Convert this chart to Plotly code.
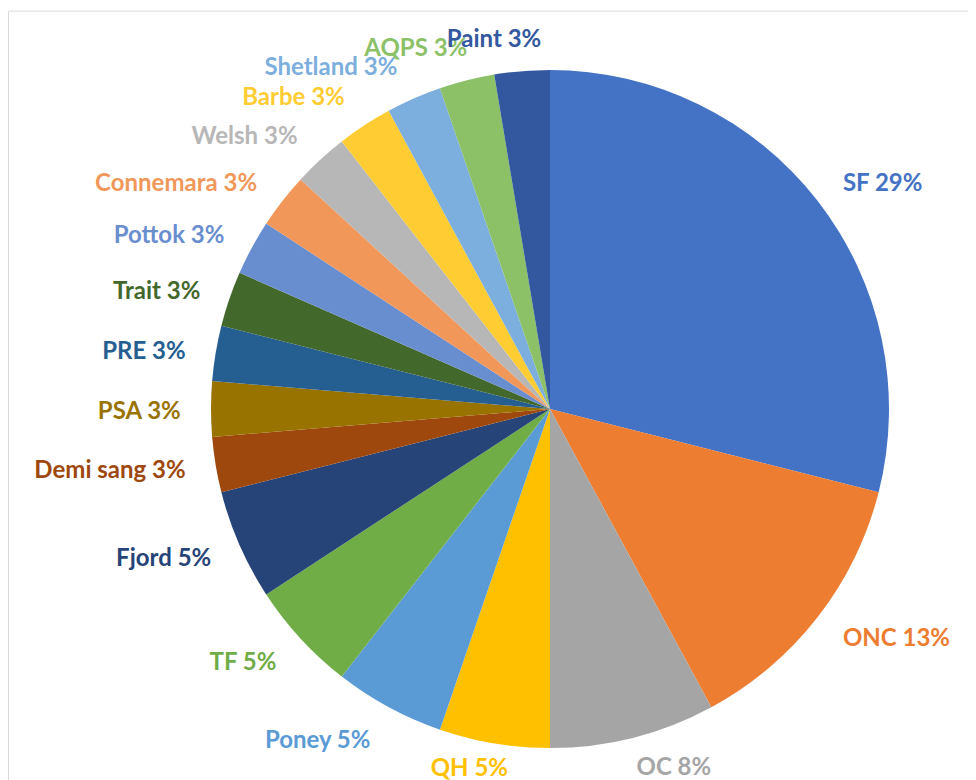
import plotly.graph_objects as go

# Breeds and head counts (percentages shown = count / 38)
breeds = ["SF", "ONC", "OC", "QH", "Poney", "TF", "Fjord", "Demi sang", "PSA",
          "PRE", "Trait", "Pottok", "Connemara", "Welsh", "Barbe", "Shetland",
          "AQPS", "Paint"]
counts = [11, 5, 3, 2, 2, 2, 2, 1, 1, 1, 1, 1, 1, 1, 1, 1, 1, 1]
colors = ["#4472C4", "#ED7D31", "#A5A5A5", "#FFC000", "#5B9BD5", "#70AD47",
          "#264478", "#9E480E", "#997300", "#255E91", "#43682B", "#698ED0",
          "#F1975A", "#B7B7B7", "#FFCD33", "#7CAFDD", "#8CC168", "#3358A0"]

W, H = 976, 780
# the page body adds an 8px offset, so the pie is centred at (542, 401)
cx, cy, r = 542, 401, 339

# labels are carried by transparent copies of the pie (radius, small rotation
# nudge, labels shown); splitting them keeps plotly from stacking the crowded
# top labels off the page and lets the few near-vertical ones sit like Excel's
label_groups = [
    (362, 0, ["SF", "ONC", "Poney", "TF", "Fjord", "Demi sang", "PSA", "PRE",
              "Trait", "Pottok", "Connemara", "Welsh", "Barbe"]),
    (362, 0, ["Shetland"]),
    (357, 2.0, ["AQPS"]),
    (357, 4.5, ["Paint"]),
    (345, -3.7, ["QH"]),
    (352, 1.2, ["OC"]),
]


def dom(rad):
    return dict(x=[(cx - rad) / W, (cx + rad) / W],
                y=[(H - cy - rad) / H, (H - cy + rad) / H])


fig = go.Figure()

fig.add_trace(go.Pie(
    labels=breeds, values=counts, sort=False, direction="clockwise",
    marker=dict(colors=colors, line=dict(width=0)),
    textinfo="none", showlegend=False, domain=dom(r), automargin=False,
))

for rad, rot, shown in label_groups:
    fig.add_trace(go.Pie(
        labels=breeds, values=counts, sort=False, direction="clockwise",
        rotation=rot,
        marker=dict(colors=["rgba(0,0,0,0)"] * len(breeds), line=dict(width=0)),
        texttemplate="%{label} %{percent:.0%}",
        textposition=["outside" if b in shown else "none" for b in breeds],
        textfont=dict(family="Lato", size=24, color=colors, weight="bold"),
        hoverinfo="skip", showlegend=False, domain=dom(rad), automargin=False,
    ))

fig.update_layout(
    width=W,
    height=H,
    margin=dict(l=0, r=0, t=0, b=0, autoexpand=False),
    paper_bgcolor="white",
    plot_bgcolor="white",
    shapes=[dict(type="rect", xref="paper", yref="paper",
                 x0=0.0005, x1=1.02, y0=-0.02, y1=0.996,
                 line=dict(color="#D9D9D9", width=1))],
)

fig.write_html("out.html")
